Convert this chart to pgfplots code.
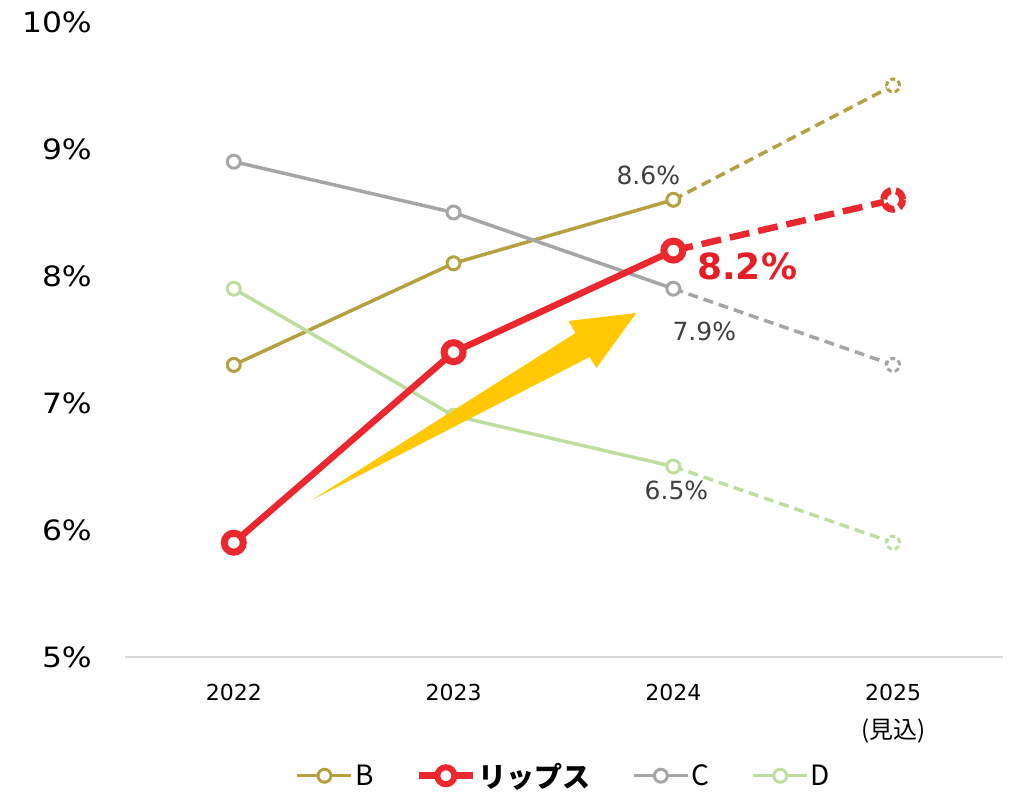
\documentclass[border=0pt]{standalone}
\usepackage{fontspec}
\setmainfont{DejaVu Sans}
\newfontfamily\widefont{DejaVu Sans}[FakeStretch=1.12]
\newfontfamily\cjk{Noto Sans CJK JP}
\usepackage{pgfplots}
\pgfplotsset{compat=1.18}
\definecolor{Bcol}{RGB}{181,160,66}
\definecolor{Rcol}{RGB}{235,40,48}
\definecolor{Ccol}{RGB}{166,166,166}
\definecolor{Dcol}{RGB}{190,222,160}
\definecolor{Ycol}{RGB}{255,200,0}
\definecolor{labgray}{RGB}{64,64,64}
\definecolor{axisgray}{RGB}{217,217,217}
\definecolor{lab82}{RGB}{230,30,37}
\begin{document}
\begin{tikzpicture}
\begin{axis}[
  set layers,
  scale only axis, width=878pt, height=635pt,
  at={(0pt,0pt)}, anchor=south west,
  xmin=2021.505, xmax=2025.5, ymin=5, ymax=10,
  clip=false,
  axis x line*=bottom, axis y line*=left,
  x axis line style={draw=axisgray, line width=1.2pt, -},
  y axis line style={draw=none},
  major tick length=0pt,
  xtick={2022,2023,2024,2025},
  xticklabels={2022,2023,2024,{2025\\{\cjk\fontsize{24}{38}\selectfont (見込)}}},
  xticklabel style={font=\fontsize{22}{38}\selectfont, align=center, anchor=north, inner sep=0pt, yshift=-27pt},
  ytick={5,6,7,8,9,10},
  yticklabels={5\%,6\%,7\%,8\%,9\%,10\%},
  yticklabel style={font=\widefont\fontsize{28}{32}\selectfont, anchor=east, inner sep=0pt, xshift=-33pt},
  legend style={at={(0.5,-0.187)}, anchor=center, draw=none, fill=none, legend columns=4,
     font=\cjk\fontsize{28}{32}\selectfont,
     /tikz/every even column/.append style={column sep=40pt}},
  legend image code/.code={\draw[mark repeat=2,mark phase=2,#1] plot coordinates {(0pt,0pt) (27pt,0pt) (54pt,0pt)};},
]
% dashed forecast segments
\addplot[forget plot, Bcol, line width=3.5pt, dash pattern=on 10pt off 6pt, mark=*, mark indices={2}, mark size=6.5pt, mark options={fill=white, line width=3pt, dash pattern=on 5pt off 3pt}] coordinates {(2024,8.6) (2025,9.5)};
\addplot[forget plot, Ccol, line width=3.5pt, dash pattern=on 10pt off 6pt, mark=*, mark indices={2}, mark size=6.5pt, mark options={fill=white, line width=3pt, dash pattern=on 5pt off 3pt}] coordinates {(2024,7.9) (2025,7.3)};
\addplot[forget plot, Dcol, line width=3.5pt, dash pattern=on 10pt off 6pt, mark=*, mark indices={2}, mark size=6.5pt, mark options={fill=white, line width=3pt, dash pattern=on 5pt off 3pt}] coordinates {(2024,6.5) (2025,5.9)};
\addplot[forget plot, Rcol, line width=6.5pt, dash pattern=on 20pt off 9pt, mark=*, mark indices={2}, mark size=9.5pt, mark options={fill=white, line width=7pt, dash pattern=on 12pt off 5pt}] coordinates {(2024,8.2) (2025,8.6)};
% solid actuals
\addplot[forget plot, Bcol, line width=3.5pt, mark=*, mark size=6.5pt, mark options={fill=white, line width=3pt, solid}] coordinates {(2022,7.3) (2023,8.1) (2024,8.6)};
\addplot[forget plot, Ccol, line width=3.5pt, mark=*, mark size=6.5pt, mark options={fill=white, line width=3pt, solid}] coordinates {(2022,8.9) (2023,8.5) (2024,7.9)};
\addplot[forget plot, Dcol, line width=3.5pt, mark=*, mark size=6.5pt, mark options={fill=white, line width=3pt, solid}] coordinates {(2022,7.9) (2023,6.9) (2024,6.5)};
\addplot[forget plot, Rcol, line width=6.5pt, mark=*, mark size=9.5pt, mark options={fill=white, line width=7pt, solid}] coordinates {(2022,5.9) (2023,7.4) (2024,8.2)};
% arrow (annotation)
\addplot[forget plot, on layer=axis foreground, draw=none, fill=Ycol, mark=none] coordinates {(2022.355,6.236) (2023.555,7.551) (2023.523,7.646) (2023.832,7.709) (2023.650,7.276) (2023.618,7.362)} -- cycle;
% labels
\node[font=\fontsize{25}{30}\selectfont, text=labgray] at (axis cs:2023.886,8.795) {8.6\%};
\node[font=\bfseries\fontsize{36}{40}\selectfont, text=lab82] at (axis cs:2024.336,8.075) {8.2\%};
\node[font=\fontsize{25}{30}\selectfont, text=labgray] at (axis cs:2024.141,7.567) {7.9\%};
\node[font=\fontsize{25}{30}\selectfont, text=labgray] at (axis cs:2024.014,6.315) {6.5\%};
% legend
\addlegendimage{Bcol, line width=3.5pt, mark=*, mark size=6.5pt, mark options={fill=white, line width=3pt, solid}}
\addlegendentry{B}
\addlegendimage{Rcol, line width=6.5pt, mark=*, mark size=8.5pt, mark options={fill=white, line width=6pt, solid}}
\addlegendentry{\bfseries リップス}
\addlegendimage{Ccol, line width=3.5pt, mark=*, mark size=6.5pt, mark options={fill=white, line width=3pt, solid}}
\addlegendentry{C}
\addlegendimage{Dcol, line width=3.5pt, mark=*, mark size=6.5pt, mark options={fill=white, line width=3pt, solid}}
\addlegendentry{D}
\end{axis}
\pgfresetboundingbox
\path (-125pt,-135pt) rectangle (887pt,657pt);
\end{tikzpicture}
\end{document}
